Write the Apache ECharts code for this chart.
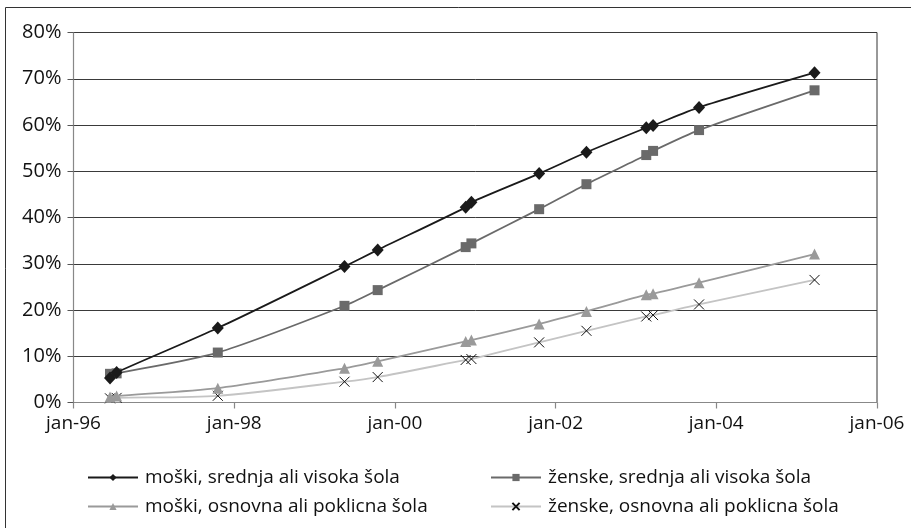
<!DOCTYPE html>
<html>
<head>
<meta charset="utf-8">
<script src="https://cdn.jsdelivr.net/npm/echarts@6/dist/echarts.min.js"></script>
<style>
html,body{margin:0;padding:0;background:#fff;}
#c{width:911px;height:528px;}
</style>
</head>
<body>
<div id="c"></div>
<script>
// Survey dates (approximate)
const dates = ['1996-06-15','1996-07-15','1997-10-18','1999-05-17','1999-10-15','2000-11-18','2000-12-14','2001-10-18','2002-05-21','2003-02-17','2003-03-20','2003-10-15','2005-03-23'];

const seriesNames = [
  'moški, srednja ali visoka šola',
  'ženske, srednja ali visoka šola',
  'moški, osnovna ali poklicna šola',
  'ženske, osnovna ali poklicna šola'
];

const moskiSrednja   = [5.3, 6.5, 16.1, 29.4, 33.0, 42.2, 43.3, 49.5, 54.1, 59.4, 59.9, 63.8, 71.3];
const zenskeSrednja  = [6.2, 6.3, 10.8, 20.9, 24.3, 33.6, 34.4, 41.8, 47.2, 53.5, 54.4, 58.9, 67.5];
const moskiOsnovna   = [1.2, 1.4, 3.1, 7.4, 8.9, 13.2, 13.5, 17.0, 19.7, 23.3, 23.5, 25.9, 32.1];
const zenskeOsnovna  = [0.9, 1.0, 1.45, 4.5, 5.5, 9.2, 9.4, 13.0, 15.5, 18.6, 18.9, 21.2, 26.5];

const tickYears  = [1996, 1998, 2000, 2002, 2004, 2006];
const tickLabels = ['jan-96', 'jan-98', 'jan-00', 'jan-02', 'jan-04', 'jan-06'];

function ts(s){ const p = s.split('-').map(Number); return Date.UTC(p[0], p[1]-1, p[2]); }
const tickValues = tickYears.map(y => Date.UTC(y, 0, 1));
function pairs(vals){ return dates.map((d, i) => [ts(d), vals[i]]); }

const FONT = '"Open Sans", "DejaVu Sans", sans-serif';
const xPath = 'path://M0,0L10,10M10,0L0,10';

const chart = echarts.init(document.getElementById('c'));
const styles = [
  {line:'#1a1a1a', sym:'diamond', size:[12,13], color:'#1a1a1a', border:null},
  {line:'#6a6a6a', sym:'rect', size:10, color:'#6a6a6a', border:null},
  {line:'#9a9a9a', sym:'triangle', size:11, color:'#9a9a9a', border:null},
  {line:'#c4c4c4', sym:xPath, size:10, color:'rgba(0,0,0,0)', border:'#111'}
];
const values = [moskiSrednja, zenskeSrednja, moskiOsnovna, zenskeOsnovna];

const series = values.map((v, i) => {
  const s = styles[i];
  const itemStyle = {color: s.color};
  if (s.border) { itemStyle.borderColor = s.border; itemStyle.borderWidth = 1; }
  return {
    name: seriesNames[i],
    type: 'line',
    data: pairs(v),
    smooth: 0.25,
    symbol: s.sym,
    symbolSize: s.size,
    showAllSymbol: true,
    lineStyle: {color: s.line, width: 1.8},
    itemStyle: itemStyle,
    z: 10 - i,
    animation: false
  };
});

const legendPos = [
  {left: 87, top: 468},
  {left: 490, top: 468},
  {left: 87, top: 497},
  {left: 490, top: 497}
];
const legends = seriesNames.map((n, i) => ({
  data: [n],
  left: legendPos[i].left,
  top: legendPos[i].top,
  orient: 'horizontal',
  itemWidth: 50,
  itemHeight: 9,
  itemGap: 6,
  padding: 0,
  textStyle: {fontFamily: FONT, fontSize: 19, color: '#111', padding: [0,0,0,2]},
  selectedMode: false
}));

chart.setOption({
  backgroundColor: '#fff',
  animation: false,
  textStyle: {fontFamily: FONT},
  graphic: [{
    type: 'rect',
    shape: {x: 5.5, y: 7.5, width: 1000, height: 1000},
    style: {fill: 'none', stroke: '#333', lineWidth: 1},
    z: -1, silent: true
  }],
  legend: legends,
  grid: {
    left: 73.5, right: 34, top: 32.5, bottom: 125.5,
    show: true, borderColor: '#333', borderWidth: 1, backgroundColor: 'transparent'
  },
  xAxis: {
    type: 'value',
    min: tickValues[0],
    max: tickValues[tickValues.length - 1],
    splitLine: {show: false},
    axisLine: {show: true, lineStyle: {color: '#888', width: 1.2}},
    axisTick: {show: true, length: 6, customValues: tickValues, lineStyle: {color: '#888', width: 1.2}},
    axisLabel: {
      customValues: tickValues,
      fontFamily: FONT, fontSize: 19, color: '#111', margin: 12,
      formatter: function(v){ const i = tickValues.indexOf(v); return i >= 0 ? tickLabels[i] : ''; }
    }
  },
  yAxis: {
    type: 'value',
    min: 0, max: 80, interval: 10,
    axisLine: {show: true, lineStyle: {color: '#888', width: 1.2}},
    axisTick: {show: true, length: 6, lineStyle: {color: '#555'}},
    splitLine: {show: true, lineStyle: {color: '#3a3a3a', width: 1}},
    axisLabel: {fontFamily: FONT, fontSize: 20, color: '#111', margin: 12, formatter: '{value}%'}
  },
  series: series
});
</script>
</body>
</html>
